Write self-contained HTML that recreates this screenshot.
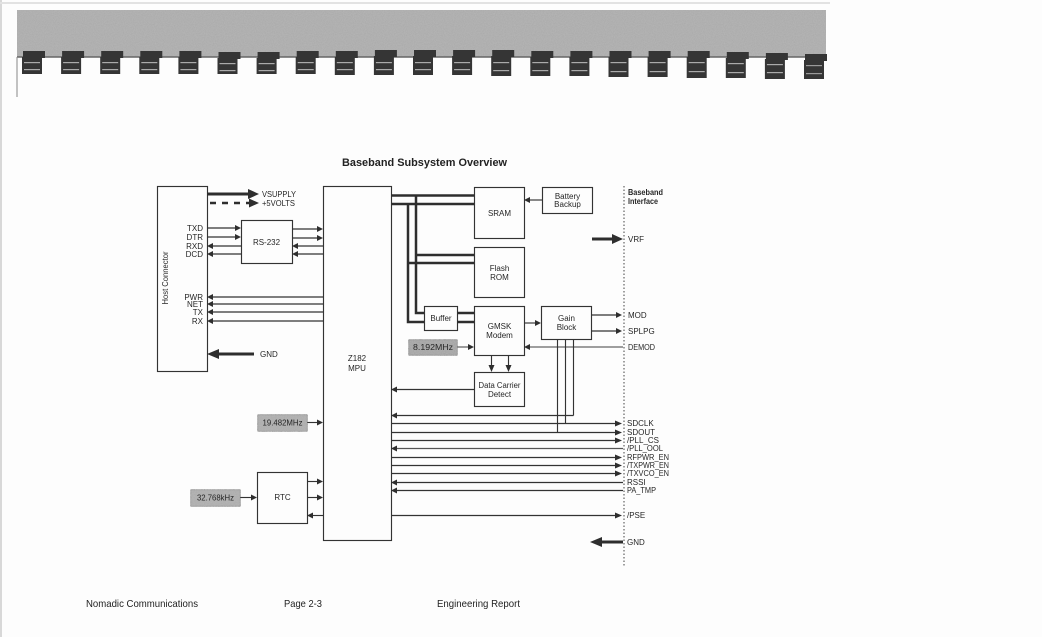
<!DOCTYPE html>
<html>
<head>
<meta charset="utf-8">
<style>
  html,body{margin:0;padding:0;background:#fff;}
  svg{display:block;}
  text{font-family:"Liberation Sans",Arial,sans-serif;fill:#262626;}
  .s{font-size:8px;}
  .f{font-size:10.5px;fill:#222;}
</style>
</head>
<body>
<svg width="1042" height="637" viewBox="0 0 1042 637" xmlns="http://www.w3.org/2000/svg">
  <defs>
    <filter id="noise" x="0" y="0" width="100%" height="100%">
      <feTurbulence type="fractalNoise" baseFrequency="0.9" numOctaves="2" seed="3" result="t"/>
      <feColorMatrix type="matrix" values="0 0 0 0 0.55  0 0 0 0 0.55  0 0 0 0 0.55  0 0 0 0.5 0" in="t" result="n"/>
      <feComposite in="n" in2="SourceGraphic" operator="in" result="nc"/>
      <feMerge><feMergeNode in="SourceGraphic"/><feMergeNode in="nc"/></feMerge>
    </filter>
  </defs>
  <rect x="0" y="0" width="1042" height="637" fill="#fdfdfd"/>
  <line x1="1" y1="0" x2="1" y2="637" stroke="#d8d8d8" stroke-width="2"/>
  <line x1="0" y1="3" x2="830" y2="3" stroke="#e2e2e2" stroke-width="2"/>

  <!-- binding band -->
  <rect x="17" y="10" width="809" height="47" fill="#a9a9a9" filter="url(#noise)"/>
  <line x1="17" y1="57" x2="826" y2="57" stroke="#666" stroke-width="1.5"/>
  <line x1="17" y1="57" x2="17" y2="97" stroke="#888" stroke-width="1"/>
  <g id="clips" fill="#353535">
    <g transform="translate(33,0)"><rect x="-10" y="51" width="22" height="7"/><rect x="-11" y="57" width="20" height="17"/><rect x="-9" y="62" width="16" height="1.2" fill="#aaa"/><rect x="-9" y="69" width="16" height="1.2" fill="#aaa"/></g>
    <g transform="translate(72.1,0)"><rect x="-10" y="51" width="22" height="7"/><rect x="-11" y="57" width="20" height="17"/><rect x="-9" y="62" width="16" height="1.2" fill="#aaa"/><rect x="-9" y="69" width="16" height="1.2" fill="#aaa"/></g>
    <g transform="translate(111.2,0)"><rect x="-10" y="51" width="22" height="7"/><rect x="-11" y="57" width="20" height="17"/><rect x="-9" y="62" width="16" height="1.2" fill="#aaa"/><rect x="-9" y="69" width="16" height="1.2" fill="#aaa"/></g>
    <g transform="translate(150.3,0)"><rect x="-10" y="51" width="22" height="7"/><rect x="-11" y="57" width="20" height="17"/><rect x="-9" y="62" width="16" height="1.2" fill="#aaa"/><rect x="-9" y="69" width="16" height="1.2" fill="#aaa"/></g>
    <g transform="translate(189.4,0)"><rect x="-10" y="51" width="22" height="7"/><rect x="-11" y="57" width="20" height="17"/><rect x="-9" y="62" width="16" height="1.2" fill="#aaa"/><rect x="-9" y="69" width="16" height="1.2" fill="#aaa"/></g>
    <g transform="translate(228.5,0)"><rect x="-10" y="52" width="22" height="7"/><rect x="-11" y="58" width="20" height="16"/><rect x="-9" y="63" width="16" height="1.2" fill="#aaa"/><rect x="-9" y="70" width="16" height="1.2" fill="#aaa"/></g>
    <g transform="translate(267.6,0)"><rect x="-10" y="52" width="22" height="7"/><rect x="-11" y="58" width="20" height="16"/><rect x="-9" y="63" width="16" height="1.2" fill="#aaa"/><rect x="-9" y="70" width="16" height="1.2" fill="#aaa"/></g>
    <g transform="translate(306.7,0)"><rect x="-10" y="51" width="22" height="7"/><rect x="-11" y="57" width="20" height="17"/><rect x="-9" y="62" width="16" height="1.2" fill="#aaa"/><rect x="-9" y="69" width="16" height="1.2" fill="#aaa"/></g>
    <g transform="translate(345.8,0)"><rect x="-10" y="51" width="22" height="7"/><rect x="-11" y="57" width="20" height="18"/><rect x="-9" y="62" width="16" height="1.2" fill="#aaa"/><rect x="-9" y="69" width="16" height="1.2" fill="#aaa"/></g>
    <g transform="translate(384.9,0)"><rect x="-10" y="50" width="22" height="7"/><rect x="-11" y="56" width="20" height="19"/><rect x="-9" y="62" width="16" height="1.2" fill="#aaa"/><rect x="-9" y="69" width="16" height="1.2" fill="#aaa"/></g>
    <g transform="translate(424,0)"><rect x="-10" y="50" width="22" height="7"/><rect x="-11" y="56" width="20" height="19"/><rect x="-9" y="62" width="16" height="1.2" fill="#aaa"/><rect x="-9" y="69" width="16" height="1.2" fill="#aaa"/></g>
    <g transform="translate(463.1,0)"><rect x="-10" y="50" width="22" height="7"/><rect x="-11" y="56" width="20" height="19"/><rect x="-9" y="62" width="16" height="1.2" fill="#aaa"/><rect x="-9" y="69" width="16" height="1.2" fill="#aaa"/></g>
    <g transform="translate(502.2,0)"><rect x="-10" y="50" width="22" height="7"/><rect x="-11" y="56" width="20" height="20"/><rect x="-9" y="62" width="16" height="1.2" fill="#aaa"/><rect x="-9" y="70" width="16" height="1.2" fill="#aaa"/></g>
    <g transform="translate(541.3,0)"><rect x="-10" y="51" width="22" height="7"/><rect x="-11" y="57" width="20" height="19"/><rect x="-9" y="62" width="16" height="1.2" fill="#aaa"/><rect x="-9" y="70" width="16" height="1.2" fill="#aaa"/></g>
    <g transform="translate(580.4,0)"><rect x="-10" y="51" width="22" height="7"/><rect x="-11" y="57" width="20" height="19"/><rect x="-9" y="62" width="16" height="1.2" fill="#aaa"/><rect x="-9" y="70" width="16" height="1.2" fill="#aaa"/></g>
    <g transform="translate(619.5,0)"><rect x="-10" y="51" width="22" height="7"/><rect x="-11" y="57" width="20" height="20"/><rect x="-9" y="62" width="16" height="1.2" fill="#aaa"/><rect x="-9" y="71" width="16" height="1.2" fill="#aaa"/></g>
    <g transform="translate(658.6,0)"><rect x="-10" y="51" width="22" height="7"/><rect x="-11" y="57" width="20" height="20"/><rect x="-9" y="62" width="16" height="1.2" fill="#aaa"/><rect x="-9" y="71" width="16" height="1.2" fill="#aaa"/></g>
    <g transform="translate(697.7,0)"><rect x="-10" y="51" width="22" height="7"/><rect x="-11" y="57" width="20" height="21"/><rect x="-9" y="62" width="16" height="1.2" fill="#aaa"/><rect x="-9" y="71" width="16" height="1.2" fill="#aaa"/></g>
    <g transform="translate(736.8,0)"><rect x="-10" y="52" width="22" height="7"/><rect x="-11" y="58" width="20" height="20"/><rect x="-9" y="63" width="16" height="1.2" fill="#aaa"/><rect x="-9" y="72" width="16" height="1.2" fill="#aaa"/></g>
    <g transform="translate(775.9,0)"><rect x="-10" y="53" width="22" height="7"/><rect x="-11" y="59" width="20" height="20"/><rect x="-9" y="64" width="16" height="1.2" fill="#aaa"/><rect x="-9" y="72" width="16" height="1.2" fill="#aaa"/></g>
    <g transform="translate(815,0)"><rect x="-10" y="54" width="22" height="7"/><rect x="-11" y="60" width="20" height="19"/><rect x="-9" y="65" width="16" height="1.2" fill="#999"/><rect x="-9" y="73" width="16" height="1.2" fill="#999"/></g>
  </g>

  <!-- Title -->
  <text x="342" y="166" font-size="11" font-weight="bold" textLength="165" lengthAdjust="spacingAndGlyphs" style="fill:#222">Baseband Subsystem Overview</text>

  <g stroke="#333" stroke-width="1.15" fill="none">
    <!-- boxes -->
    <rect x="157.5" y="186.5" width="50" height="185"/>
    <rect x="241.5" y="220.5" width="51" height="43"/>
    <rect x="323.5" y="186.5" width="68" height="354"/>
    <rect x="474.5" y="187.5" width="50" height="51"/>
    <rect x="542.5" y="187.5" width="50" height="26"/>
    <rect x="474.5" y="247.5" width="50" height="50"/>
    <rect x="424.5" y="306.5" width="33" height="24"/>
    <rect x="474.5" y="306.5" width="50" height="49"/>
    <rect x="541.5" y="306.5" width="50" height="33"/>
    <rect x="474.5" y="372.5" width="50" height="34"/>
    <rect x="257.5" y="472.5" width="50" height="51"/>

    <!-- RS-232 links -->
    <line x1="207" y1="228" x2="236" y2="228"/>
    <line x1="207" y1="237" x2="236" y2="237"/>
    <line x1="213" y1="246" x2="241" y2="246"/>
    <line x1="213" y1="254" x2="241" y2="254"/>
    <line x1="292" y1="229" x2="318" y2="229"/>
    <line x1="292" y1="238" x2="318" y2="238"/>
    <line x1="298" y1="246" x2="323" y2="246"/>
    <line x1="298" y1="254" x2="323" y2="254"/>
    <!-- PWR NET TX RX -->
    <line x1="213" y1="297" x2="323" y2="297"/>
    <line x1="213" y1="304" x2="323" y2="304"/>
    <line x1="213" y1="312" x2="323" y2="312"/>
    <line x1="213" y1="321" x2="323" y2="321"/>

    <!-- battery to SRAM -->
    <line x1="530" y1="200" x2="542" y2="200"/>
    <!-- GMSK to Gain -->
    <line x1="524" y1="323" x2="536" y2="323"/>
    <!-- MOD/SPLPG -->
    <line x1="591" y1="315" x2="617" y2="315"/>
    <line x1="591" y1="331" x2="617" y2="331"/>
    <!-- DEMOD -->
    <line x1="530" y1="347" x2="623" y2="347" stroke="#666"/>
    <!-- 8.192 to GMSK -->
    <line x1="457" y1="347" x2="469" y2="347" stroke="#555"/>
    <!-- gain verticals -->
    <line x1="557.5" y1="339" x2="557.5" y2="432"/>
    <line x1="565.5" y1="339" x2="565.5" y2="423"/>
    <line x1="573.5" y1="339" x2="573.5" y2="415.5"/>
    <line x1="397" y1="415.5" x2="573.5" y2="415.5"/>
    <!-- GMSK to DCD -->
    <line x1="491.5" y1="355" x2="491.5" y2="366"/>
    <line x1="508.5" y1="355" x2="508.5" y2="366"/>
    <!-- DCD to MPU -->
    <line x1="397" y1="389.5" x2="474" y2="389.5"/>

    <!-- signal lines -->
    <line x1="391" y1="423.5" x2="616" y2="423.5"/>
    <line x1="391" y1="432.5" x2="616" y2="432.5"/>
    <line x1="391" y1="440.5" x2="616" y2="440.5"/>
    <line x1="397" y1="448.5" x2="623" y2="448.5" stroke="#555"/>
    <line x1="391" y1="457.5" x2="616" y2="457.5"/>
    <line x1="391" y1="465.5" x2="616" y2="465.5"/>
    <line x1="391" y1="473.5" x2="616" y2="473.5"/>
    <line x1="397" y1="482.5" x2="623" y2="482.5"/>
    <line x1="397" y1="490.5" x2="623" y2="490.5"/>
    <line x1="391" y1="515.5" x2="616" y2="515.5"/>

    <!-- clocks / RTC -->
    <line x1="307" y1="422.5" x2="318" y2="422.5"/>
    <line x1="307" y1="481.5" x2="318" y2="481.5"/>
    <line x1="307" y1="497.5" x2="318" y2="497.5"/>
    <line x1="313" y1="515.5" x2="323" y2="515.5"/>
    <line x1="240" y1="497.5" x2="252" y2="497.5"/>
  </g>

  <!-- thick lines -->
  <g stroke="#2e2e2e" stroke-width="3" fill="none">
    <line x1="207" y1="194" x2="250" y2="194"/>
    <line x1="210" y1="203" x2="250" y2="203" stroke-dasharray="6,6" stroke-width="2.5"/>
    <line x1="215" y1="354" x2="254" y2="354"/>
    <line x1="391" y1="195.5" x2="474" y2="195.5" stroke-width="2.5"/>
    <line x1="391" y1="204" x2="474" y2="204" stroke-width="2.5"/>
    <polyline points="416,195.5 416,313 424,313" stroke-width="2.5"/>
    <polyline points="408,204 408,322 424,322" stroke-width="2.5"/>
    <line x1="416" y1="255" x2="474" y2="255" stroke-width="2.5"/>
    <line x1="408" y1="263" x2="474" y2="263" stroke-width="2.5"/>
    <line x1="457" y1="313" x2="474" y2="313" stroke-width="2.5"/>
    <line x1="457" y1="322" x2="474" y2="322" stroke-width="2.5"/>
    <line x1="592" y1="239" x2="614" y2="239"/>
    <line x1="600" y1="542" x2="623" y2="542"/>
  </g>

  <!-- arrowheads -->
  <g fill="#2e2e2e">
    <polygon points="248,189 259,194 248,199"/>
    <polygon points="249,198.5 259,203 249,207.5"/>
    <polygon points="219,349 207,354 219,359"/>
    <polygon points="612,234 623,239 612,244"/>
    <polygon points="602,537 590,542 602,547"/>
    <polygon points="235,225 241,228 235,231"/>
    <polygon points="235,234 241,237 235,240"/>
    <polygon points="317,226 323,229 317,232"/>
    <polygon points="317,235 323,238 317,241"/>
    <polygon points="213,243 207,246 213,249"/>
    <polygon points="213,251 207,254 213,257"/>
    <polygon points="298,243 292,246 298,249"/>
    <polygon points="298,251 292,254 298,257"/>
    <polygon points="213,294 207,297 213,300"/>
    <polygon points="213,301 207,304 213,307"/>
    <polygon points="213,309 207,312 213,315"/>
    <polygon points="213,318 207,321 213,324"/>
    <polygon points="530,197 524,200 530,203"/>
    <polygon points="535,320 541,323 535,326"/>
    <polygon points="616,312 622,315 616,318"/>
    <polygon points="616,328 622,331 616,334"/>
    <polygon points="530,344 524,347 530,350"/>
    <polygon points="468,344 474,347 468,350"/>
    <polygon points="488.5,365 491.5,372 494.5,365"/>
    <polygon points="505.5,365 508.5,372 511.5,365"/>
    <polygon points="397,386.5 391,389.5 397,392.5"/>
    <polygon points="397,412.5 391,415.5 397,418.5"/>
    <polygon points="615,420.5 622,423.5 615,426.5"/>
    <polygon points="615,429.5 622,432.5 615,435.5"/>
    <polygon points="615,437.5 622,440.5 615,443.5"/>
    <polygon points="397,445.5 391,448.5 397,451.5"/>
    <polygon points="615,454.5 622,457.5 615,460.5"/>
    <polygon points="615,462.5 622,465.5 615,468.5"/>
    <polygon points="615,470.5 622,473.5 615,476.5"/>
    <polygon points="397,479.5 391,482.5 397,485.5"/>
    <polygon points="397,487.5 391,490.5 397,493.5"/>
    <polygon points="615,512.5 622,515.5 615,518.5"/>
    <polygon points="317,419.5 323,422.5 317,425.5"/>
    <polygon points="317,478.5 323,481.5 317,484.5"/>
    <polygon points="317,494.5 323,497.5 317,500.5"/>
    <polygon points="313,512.5 307,515.5 313,518.5"/>
    <polygon points="251,494.5 257,497.5 251,500.5"/>
  </g>

  <!-- gray crystal boxes -->
  <g stroke="#333" stroke-width="1.1">
    <rect x="408.5" y="339.5" width="49" height="16" fill="#a0a0a0" filter="url(#noise)"/>
    <rect x="257.5" y="414.5" width="50" height="17" fill="#aaaaaa" filter="url(#noise)"/>
    <rect x="190.5" y="489.5" width="50" height="17" fill="#aaaaaa" filter="url(#noise)"/>
  </g>

  <!-- baseband interface dotted line -->
  <line x1="624" y1="186" x2="624" y2="566" stroke="#444" stroke-width="1" stroke-dasharray="1.5,2"/>

  <!-- labels -->
  <g class="s">
    <text class="s" x="168" y="278" text-anchor="middle" transform="rotate(-90 168 278)" textLength="53" lengthAdjust="spacingAndGlyphs">Host Connector</text>
    <text class="s" x="262" y="197" textLength="34" lengthAdjust="spacingAndGlyphs">VSUPPLY</text>
    <text class="s" x="262" y="206" textLength="33" lengthAdjust="spacingAndGlyphs">+5VOLTS</text>
    <text class="s" x="203" y="231" text-anchor="end">TXD</text>
    <text class="s" x="203" y="240" text-anchor="end">DTR</text>
    <text class="s" x="203" y="249" text-anchor="end">RXD</text>
    <text class="s" x="203" y="257" text-anchor="end">DCD</text>
    <text class="s" x="266.5" y="245" text-anchor="middle">RS-232</text>
    <text class="s" x="203" y="300" text-anchor="end">PWR</text>
    <text class="s" x="203" y="307" text-anchor="end">NET</text>
    <text class="s" x="203" y="315" text-anchor="end">TX</text>
    <text class="s" x="203" y="324" text-anchor="end">RX</text>
    <text class="s" x="260" y="357">GND</text>
    <text class="s" x="357" y="361" text-anchor="middle">Z182</text>
    <text class="s" x="357" y="371" text-anchor="middle">MPU</text>
    <text class="s" x="499.5" y="216" text-anchor="middle">SRAM</text>
    <text class="s" x="567.5" y="199" text-anchor="middle">Battery</text>
    <text class="s" x="567.5" y="207" text-anchor="middle">Backup</text>
    <text class="s" x="628" y="195" font-weight="bold" textLength="35" lengthAdjust="spacingAndGlyphs">Baseband</text>
    <text class="s" x="628" y="204" font-weight="bold" textLength="30" lengthAdjust="spacingAndGlyphs">Interface</text>
    <text class="s" x="628" y="242">VRF</text>
    <text class="s" x="499.5" y="271" text-anchor="middle">Flash</text>
    <text class="s" x="499.5" y="280" text-anchor="middle">ROM</text>
    <text class="s" x="441" y="321" text-anchor="middle" font-size="7">Buffer</text>
    <text class="s" x="499.5" y="329" text-anchor="middle">GMSK</text>
    <text class="s" x="499.5" y="338" text-anchor="middle">Modem</text>
    <text class="s" x="566.5" y="321" text-anchor="middle">Gain</text>
    <text class="s" x="566.5" y="330" text-anchor="middle">Block</text>
    <text class="s" x="628" y="318">MOD</text>
    <text class="s" x="628" y="334">SPLPG</text>
    <text class="s" x="628" y="350" textLength="27" lengthAdjust="spacingAndGlyphs">DEMOD</text>
    <text class="s" x="433" y="350" text-anchor="middle" textLength="40" lengthAdjust="spacingAndGlyphs">8.192MHz</text>
    <text class="s" x="499.5" y="388" text-anchor="middle" textLength="42" lengthAdjust="spacingAndGlyphs">Data Carrier</text>
    <text class="s" x="499.5" y="397" text-anchor="middle">Detect</text>
    <text class="s" x="627" y="426">SDCLK</text>
    <text class="s" x="627" y="435">SDOUT</text>
    <text class="s" x="627" y="443">/PLL_CS</text>
    <text class="s" x="627" y="451" textLength="36" lengthAdjust="spacingAndGlyphs">/PLL_OOL</text>
    <text class="s" x="627" y="460" textLength="42" lengthAdjust="spacingAndGlyphs">RFPWR_EN</text>
    <text class="s" x="627" y="468" textLength="42" lengthAdjust="spacingAndGlyphs">/TXPWR_EN</text>
    <text class="s" x="627" y="476" textLength="42" lengthAdjust="spacingAndGlyphs">/TXVCO_EN</text>
    <text class="s" x="627" y="485">RSSI</text>
    <text class="s" x="627" y="493" textLength="29" lengthAdjust="spacingAndGlyphs">PA_TMP</text>
    <text class="s" x="627" y="518">/PSE</text>
    <text class="s" x="627" y="545">GND</text>
    <text class="s" x="282.5" y="425.5" text-anchor="middle" textLength="40" lengthAdjust="spacingAndGlyphs">19.482MHz</text>
    <text class="s" x="282.5" y="500" text-anchor="middle">RTC</text>
    <text class="s" x="215.5" y="500.5" text-anchor="middle" textLength="37" lengthAdjust="spacingAndGlyphs">32.768kHz</text>
  </g>

  <!-- footer -->
  <text class="f" x="86" y="607" textLength="112" lengthAdjust="spacingAndGlyphs">Nomadic Communications</text>
  <text class="f" x="284" y="607" textLength="38" lengthAdjust="spacingAndGlyphs">Page 2-3</text>
  <text class="f" x="437" y="607" textLength="83" lengthAdjust="spacingAndGlyphs">Engineering Report</text>
</svg>
</body>
</html>
